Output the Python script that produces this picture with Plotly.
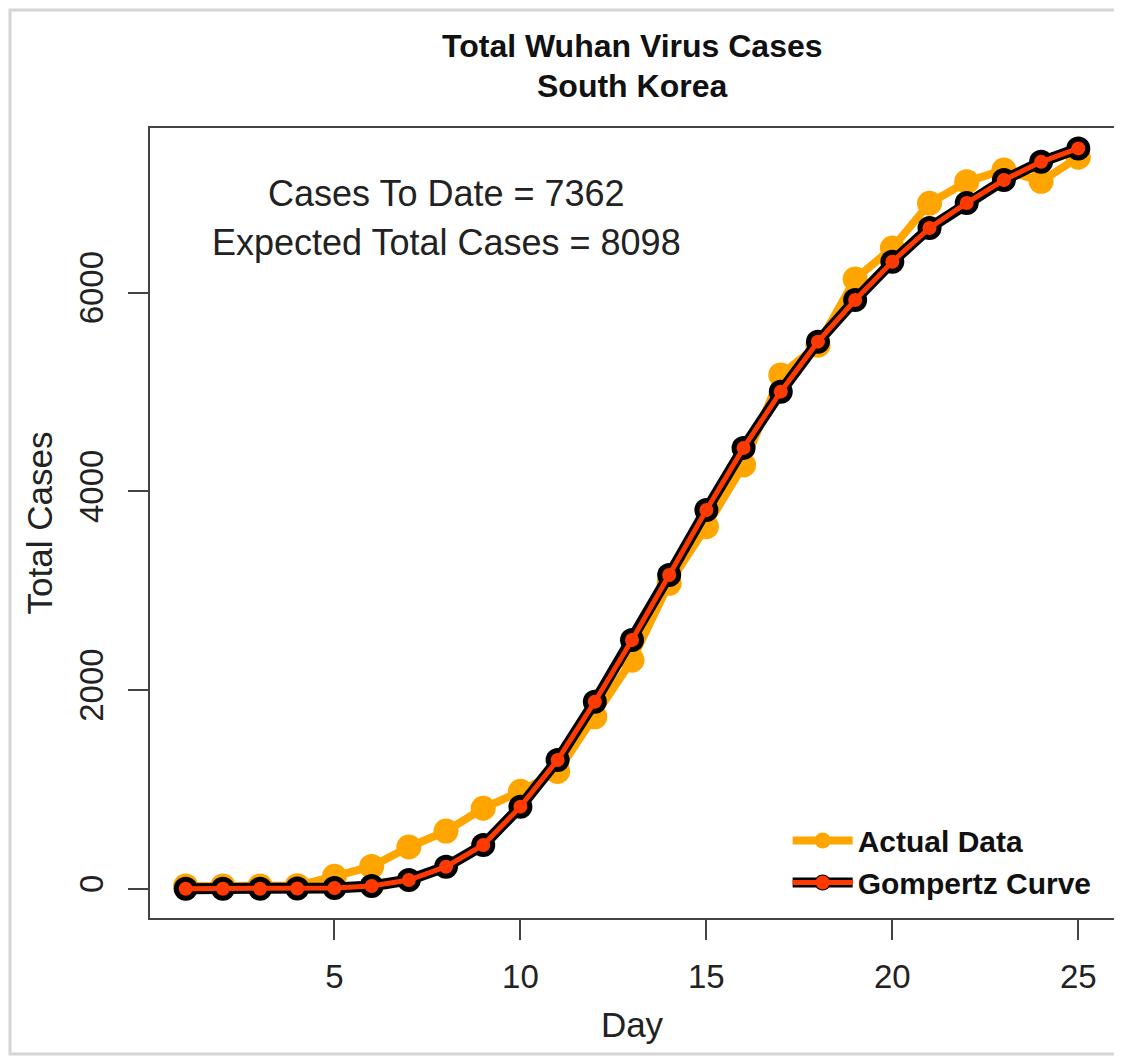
import plotly.graph_objects as go

# ---- data ----
days = list(range(1, 26))
actual_cases = [28, 28, 28, 31, 125, 225, 420, 580, 810, 980,
                1180, 1730, 2300, 3074, 3644, 4265, 5171, 5470, 6137, 6449,
                6899, 7116, 7234, 7120, 7362]
gompertz_cases = [0, 0, 0, 3, 8, 28, 88, 222, 440, 826,
                  1296, 1882, 2504, 3157, 3812, 4437, 5003, 5506, 5925, 6311,
                  6650, 6902, 7133, 7316, 7451]
x_ticks = [5, 10, 15, 20, 25]
y_ticks = [0, 2000, 4000, 6000]
title_lines = ["Total Wuhan Virus Cases", "South Korea"]
cases_to_date = 7362
expected_total = 8098

FONT = "Liberation Sans, Arial, Helvetica, sans-serif"
ORANGE = "#FFA500"
RED = "#FF3A00"

fig = go.Figure()

fig.add_trace(go.Scatter(
    x=days, y=actual_cases, mode="lines+markers", name="Actual Data",
    line=dict(color=ORANGE, width=8),
    marker=dict(color=ORANGE, size=25),
    legend="legend",
))
# black outline underneath the Gompertz curve
fig.add_trace(go.Scatter(
    x=days, y=gompertz_cases, mode="lines+markers", name="Gompertz Curve",
    line=dict(color="black", width=11),
    marker=dict(color="black", size=24),
    legend="legend",
))
fig.add_trace(go.Scatter(
    x=days, y=gompertz_cases, mode="lines+markers", name="Gompertz Curve",
    line=dict(color=RED, width=5),
    marker=dict(color=RED, size=14),
    legend="legend2",
))

fig.add_annotation(x=8, y=7000, xref="x", yref="y",
                   text=f"Cases To Date = {cases_to_date}", showarrow=False,
                   font=dict(family=FONT, size=36, color="#222"))
fig.add_annotation(x=8, y=6500, xref="x", yref="y",
                   text=f"Expected Total Cases = {expected_total}", showarrow=False,
                   font=dict(family=FONT, size=36, color="#222"))

# title (two centred bold lines above the plot box)
for txt, ypx in zip(title_lines, [46, 86]):
    fig.add_annotation(x=0.5, y=(918 - ypx) / 790, xref="paper", yref="paper",
                       text=txt, showarrow=False, yanchor="middle",
                       font=dict(family=FONT, size=32, color="#111", weight="bold"))

# card frame around the picture (top, left and bottom edges only)
fx0, fx1 = (10 - 150) / 964, (1200 - 150) / 964
fy_top, fy_bot = (918 - 10) / 790, (918 - 1054) / 790
fig.add_shape(type="path", xref="paper", yref="paper",
              path=f"M {fx1},{fy_top} L {fx0},{fy_top} L {fx0},{fy_bot} L {fx1},{fy_bot}",
              line=dict(color="#d4d4d4", width=3), layer="below")

axis_common = dict(
    showline=True, mirror=True, linecolor="#444", linewidth=2,
    ticks="outside", ticklen=20, tickwidth=2, tickcolor="#444",
    showgrid=False, zeroline=False, automargin=False,
    tickfont=dict(family=FONT, size=33, color="#222"),
)

legend_common = dict(
    x=0.982, xanchor="right", y=0.012, yanchor="bottom",
    bgcolor="rgba(0,0,0,0)", borderwidth=0, itemwidth=60,
    tracegroupgap=0,
)

# the page adds an 8px body margin on every side, so keep the figure inside the window
fig.update_layout(
    width=1106, height=1048,
    margin=dict(l=142, r=0, t=120, b=138),
    paper_bgcolor="white", plot_bgcolor="white",
    xaxis=dict(axis_common, range=[0.04, 25.96], tickvals=x_ticks,
               ticklabelstandoff=8,
               title=dict(text="Day", font=dict(family=FONT, size=35, color="#222"),
                          standoff=19)),
    yaxis=dict(axis_common, range=[-294.5, 7656.5], tickvals=y_ticks, tickangle=-90,
               ticklabelstandoff=12,
               title=dict(text="Total Cases", font=dict(family=FONT, size=35, color="#222"),
                          standoff=10)),
    legend=dict(legend_common,
                font=dict(family=FONT, size=30, color="#111", weight="bold")),
    legend2=dict(legend_common,
                 font=dict(family=FONT, size=30, color="rgba(0,0,0,0)", weight="bold")),
)

fig.write_html("out.html")
